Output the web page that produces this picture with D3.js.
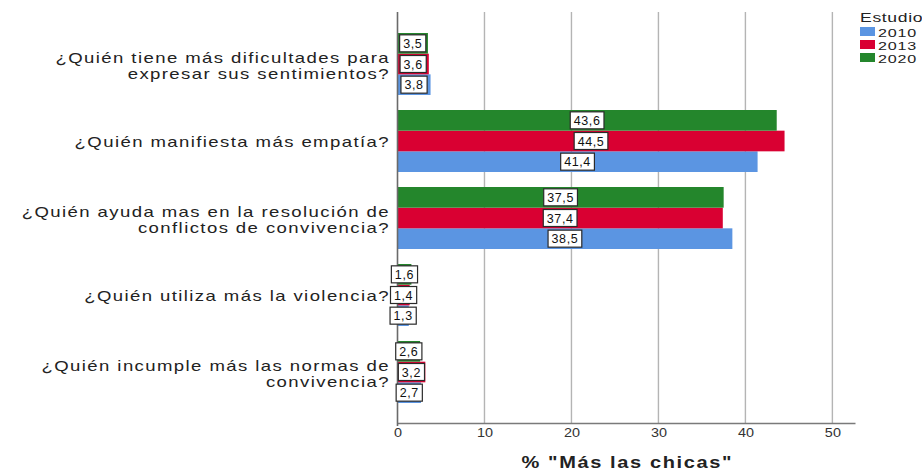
<!DOCTYPE html>
<html>
<head>
<meta charset="utf-8">
<script src="https://cdn.jsdelivr.net/npm/d3@7"></script>
<style>
  html, body { margin: 0; padding: 0; background: #fff; }
  svg { display: block; font-family: "Liberation Sans", Arial, sans-serif; }
</style>
</head>
<body>
<svg id="chart" width="922" height="473"></svg>
<script>
// Questions (each entry is a list of text lines) and survey years
const categories = [
  ["¿Quién tiene más dificultades para", "expresar sus sentimientos?"],
  ["¿Quién manifiesta más empatía?"],
  ["¿Quién ayuda mas en la resolución de", "conflictos de convivencia?"],
  ["¿Quién utiliza más la violencia?"],
  ["¿Quién incumple más las normas de", "convivencia?"]
];
const years = ["2010", "2013", "2020"];
// Percentage answering "Más las chicas", per question
const values2010 = [3.8, 41.4, 38.5, 1.3, 2.7];
const values2013 = [3.6, 44.5, 37.4, 1.4, 3.2];
const values2020 = [3.5, 43.6, 37.5, 1.6, 2.6];
const xTicks = [0, 10, 20, 30, 40, 50];
const xTitle = '% "Más las chicas"';
const legendTitle = "Estudio";

const seriesValues = { "2010": values2010, "2013": values2013, "2020": values2020 };
const colors = { "2010": "#5b95e2", "2013": "#d90032", "2020": "#24862c" };

const svg = d3.select("#chart");
const plot = { left: 397.5, right: 855, top: 12, bottom: 423 };

// Text drawn with a horizontally widened face
function wideText(parent, px, py, sx, str) {
  return parent.append("g").attr("transform", `translate(${px},${py}) scale(${sx},1)`)
    .append("text").attr("x", 0).attr("y", 0).text(str);
}

const x = d3.scaleLinear().domain([0, 52.6]).range([plot.left, plot.right]);
const catIdx = categories.map((d, i) => i);
const y = d3.scaleBand().domain(catIdx).range([25.5, 410.5])
  .paddingInner(0.195).paddingOuter(0.0975);
// Within a question, 2020 sits on top and 2010 at the bottom
const inner = d3.scaleBand().domain(["2020", "2013", "2010"]).range([0, y.bandwidth()]);

// Gridlines
svg.append("g").selectAll("line").data(xTicks.filter(t => t > 0)).join("line")
  .attr("x1", d => x(d)).attr("x2", d => x(d))
  .attr("y1", plot.top).attr("y2", plot.bottom)
  .attr("stroke", "#b4b4b4").attr("stroke-width", 1.4);

// Bars
const rows = [];
catIdx.forEach(i => years.forEach(yr => rows.push({ i, yr, v: seriesValues[yr][i] })));
svg.append("g").selectAll("rect").data(rows).join("rect")
  .attr("x", x(0))
  .attr("y", d => y(d.i) + inner(d.yr))
  .attr("width", d => x(d.v) - x(0))
  .attr("height", inner.bandwidth())
  .attr("fill", d => colors[d.yr]);

// Axes
const xAxis = svg.append("g").attr("transform", `translate(0,${plot.bottom})`)
  .call(d3.axisBottom(x).tickValues(xTicks).tickSize(0).tickPadding(5).tickFormat(d3.format("d")));
xAxis.select(".domain").attr("stroke", "#7a7a7a").attr("stroke-width", 1.4);
xAxis.selectAll("text").attr("font-size", 12).attr("fill", "#333")
  .attr("font-family", "'Liberation Sans', Arial, sans-serif")
  .attr("transform", "scale(1.2,1)")
  .attr("x", function () { return 0; });

svg.append("line")
  .attr("x1", x(0)).attr("x2", x(0)).attr("y1", plot.top).attr("y2", plot.bottom + 3)
  .attr("stroke", "#6a6a6a").attr("stroke-width", 1.6);

// Value labels
const fmt = v => d3.format(".1f")(v).replace(".", ",");
const labels = svg.append("g").selectAll("g").data(rows).join("g")
  .attr("transform", d => `translate(${(x(0) + x(d.v)) / 2},${y(d.i) + inner(d.yr) + inner.bandwidth() / 2})`);
labels.append("rect");
labels.append("text")
  .attr("text-anchor", "middle").attr("dy", "0.36em")
  .attr("font-size", 12.5).attr("letter-spacing", 0.6).attr("fill", "#111")
  .text(d => fmt(d.v));
labels.each(function () {
  const g = d3.select(this);
  const bb = g.select("text").node().getBBox();
  g.select("rect")
    .attr("x", -bb.width / 2 - 3.5).attr("y", -8.5)
    .attr("width", bb.width + 7).attr("height", 17)
    .attr("fill", "#fff").attr("stroke", "#2a2a2a").attr("stroke-width", 1.2);
});

// Question labels
const qG = svg.append("g").attr("font-size", 14.5).attr("fill", "#222")
  .attr("letter-spacing", 1.1).attr("text-anchor", "end");
catIdx.forEach(i => {
  const lines = categories[i];
  const c = y(i) + y.bandwidth() / 2;
  lines.forEach((ln, k) => {
    const py = lines.length === 1 ? c + 6 : c - 1.5 + k * 16;
    wideText(qG, 390, py, 1.28, ln);
  });
});

// Axis title
wideText(svg, (plot.left + plot.right) / 2 + 1, 468, 1.25, xTitle)
  .attr("text-anchor", "middle").attr("font-size", 16).attr("font-weight", "bold")
  .attr("letter-spacing", 1.3).attr("fill", "#222");

// Legend
const leg = svg.append("g").attr("transform", "translate(860,0)");
wideText(leg, 0, 22, 1.35, legendTitle)
  .attr("font-size", 13).attr("letter-spacing", 0.5).attr("fill", "#222");
const li = leg.selectAll("g.item").data(years).join("g").attr("class", "item")
  .attr("transform", (d, k) => `translate(0,${27 + k * 13})`);
li.append("rect").attr("width", 15).attr("height", 9).attr("fill", d => colors[d]);
li.each(function (d) {
  wideText(d3.select(this), 18, 9.5, 1.4, d)
    .attr("font-size", 11.5).attr("letter-spacing", 0.6).attr("fill", "#222");
});
</script>
</body>
</html>
